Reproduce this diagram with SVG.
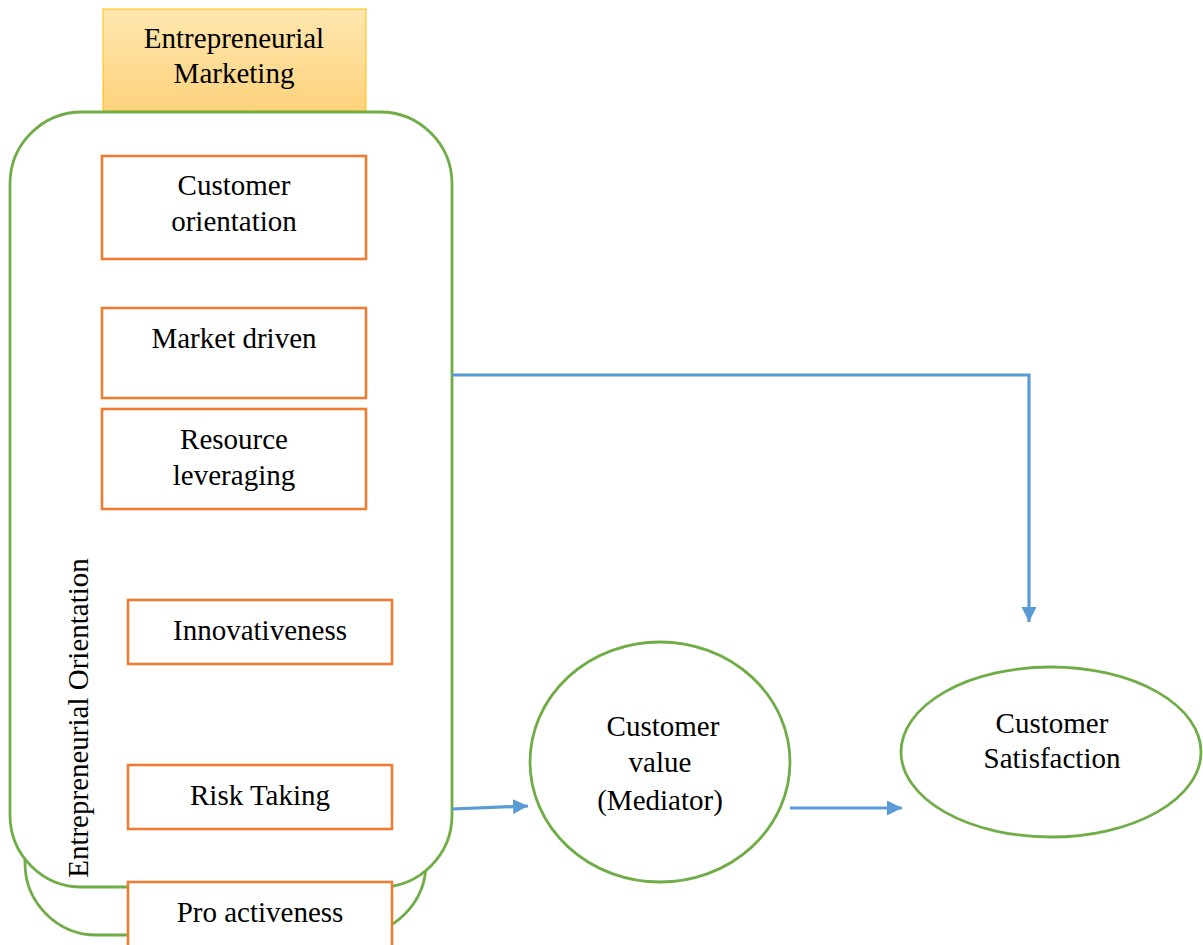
<svg xmlns="http://www.w3.org/2000/svg" width="1203" height="945" viewBox="0 0 1203 945">
<style>
text{font-family:"Liberation Serif","Times New Roman",serif;font-size:29px;fill:#000;text-anchor:middle}
.grn{fill:#fff;stroke:#70ad47;stroke-width:2.8}
.org{fill:#fff;stroke:#ed7d31;stroke-width:2.6}
.con{fill:none;stroke:#5b9bd5;stroke-width:3.2}
</style>
<defs>
<linearGradient id="yg" x1="0" y1="0" x2="0" y2="1">
<stop offset="0" stop-color="#fee7b0"/>
<stop offset="1" stop-color="#fed27c"/>
</linearGradient>
<marker id="arr" markerUnits="userSpaceOnUse" markerWidth="16" markerHeight="16" refX="15" refY="7.5" orient="auto">
<path d="M0,0 L15,7.5 L0,15 Z" fill="#5b9bd5"/>
</marker>
</defs>
<g id="em">
<rect x="103" y="9" width="263" height="102" fill="url(#yg)" stroke="#ffc000" stroke-width="1"/>
<text x="234" y="48">Entrepreneurial</text>
<text x="234" y="83">Marketing</text>
</g>
<g id="eo-back">
<rect x="25" y="300" width="401" height="635" rx="72" ry="72" class="grn"/>
</g>
<g id="eo">
<rect x="10" y="112" width="442" height="775" rx="72" ry="72" class="grn"/>
<text transform="translate(88,718) rotate(-90)">Entrepreneurial Orientation</text>
</g>
<g id="co">
<rect x="102" y="156" width="264" height="103" class="org"/>
<text x="234" y="195">Customer</text>
<text x="234" y="231">orientation</text>
</g>
<g id="md">
<rect x="102" y="308" width="264" height="90" class="org"/>
<text x="234" y="348">Market driven</text>
</g>
<g id="rl">
<rect x="102" y="409" width="264" height="100" class="org"/>
<text x="234" y="449">Resource</text>
<text x="234" y="485">leveraging</text>
</g>
<g id="inn">
<rect x="128" y="600" width="264" height="64" class="org"/>
<text x="260" y="640">Innovativeness</text>
</g>
<g id="rt">
<rect x="128" y="765" width="264" height="64" class="org"/>
<text x="260" y="805">Risk Taking</text>
</g>
<g id="pa">
<rect x="128" y="882" width="264" height="70" class="org"/>
<text x="260" y="922">Pro activeness</text>
</g>
<g id="cv">
<ellipse cx="660" cy="762" rx="130" ry="120" class="grn"/>
<text x="663" y="736">Customer</text>
<text x="660" y="772">value</text>
<text x="660" y="810">(Mediator)</text>
</g>
<g id="cs">
<ellipse cx="1051" cy="752" rx="150" ry="85" class="grn"/>
<text x="1052" y="733">Customer</text>
<text x="1052" y="768">Satisfaction</text>
</g>
<g id="connectors">
<path class="con" d="M452,375 H1029 V622" marker-end="url(#arr)"/>
<path class="con" d="M452,809 L528,806" marker-end="url(#arr)"/>
<path class="con" d="M790,808 L902,808" marker-end="url(#arr)"/>
</g>
</svg>
